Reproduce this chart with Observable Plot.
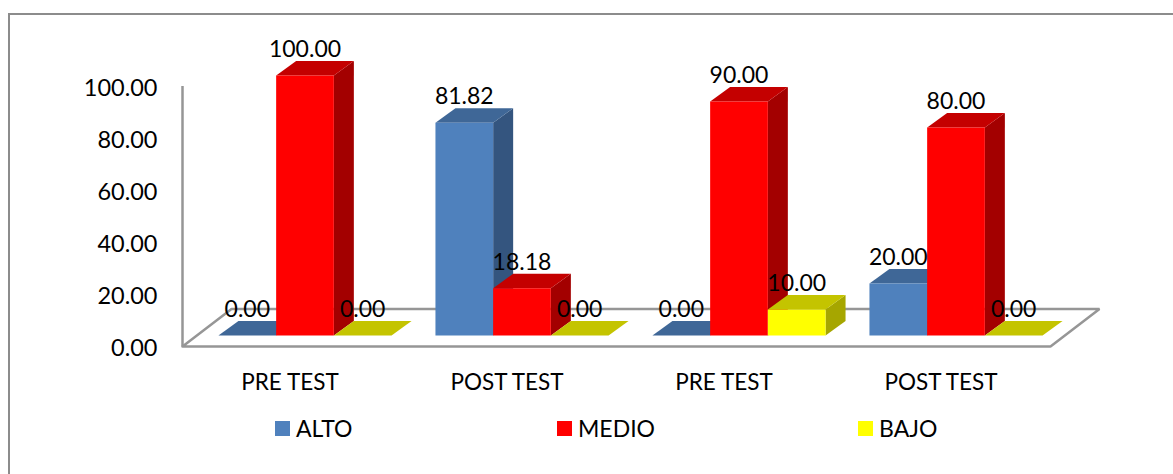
<!DOCTYPE html>
<html>
<head>
<meta charset="utf-8">
<script src="https://cdn.jsdelivr.net/npm/d3@7"></script>
<script src="https://cdn.jsdelivr.net/npm/@observablehq/plot@0.6"></script>
<style>
  html, body { margin: 0; padding: 0; background: #fff; }
  #chart { position: relative; width: 1173px; height: 474px; overflow: hidden; font-family: Lato, sans-serif; color: #000; }
  #frame { position: absolute; left: 8px; top: 13px; width: 1180px; height: 480px; border: 2px solid #8c8c8c; box-sizing: border-box; pointer-events: none; }
  #legend { position: relative; height: 64px; font-size: 23px; }
  #legend .item { position: absolute; top: 6px; display: flex; align-items: center; gap: 6px; line-height: 24px; }
  #legend .sw { width: 15px; height: 15px; display: inline-block; }
  svg { display: block; overflow: visible; }
</style>
</head>
<body>
<div id="chart"><div id="frame"></div></div>
<script>
const groups = ["PRE TEST", "POST TEST", "PRE TEST", "POST TEST"];
const seriesNames = ["ALTO", "MEDIO", "BAJO"];
const alto = [0, 81.82, 0, 20];
const medio = [100, 18.18, 90, 80];
const bajo = [0, 0, 10, 0];
const yTicks = [0, 20, 40, 60, 80, 100];
const frontColors = ["#4F81BD", "#FF0000", "#FFFF00"];
const topColors = ["#3F6797", "#C40000", "#C4C400"];
const sideColors = ["#34557F", "#A30000", "#A6A600"];
const legendLeft = [275, 557, 858];

const values = [alto, medio, bajo];
const W = 1173, H = 410;
const mL = 182, mR = 123, mT = 86, mB = H - 346;
const ux = 217;                   // px per group on x
const uy = 2.6;                   // px per y-unit
const barW = 57.7 / ux;           // bar width in x units
const barStart = 0.5 - 1.5 * barW; // first bar offset within a group
const floorDX = 49 / ux, floorDY = 37.5 / uy;
const frontDX = 14 / ux, frontDY = 11 / uy;
const barDX = 20 / ux, barDY = 14.5 / uy;

// polygons, painted left to right so nearer bars cover farther ones
const polys = [];
groups.forEach((g, gi) => {
  seriesNames.forEach((s, si) => {
    const v = values[si][gi];
    const x0 = gi + barStart + si * barW + frontDX;
    const x1 = x0 + barW;
    const y0 = frontDY, y1 = frontDY + v;
    const add = (face, fill, pts) => pts.forEach(([x, y]) => polys.push({id: `${gi}-${si}-${face}`, fill, x, y}));
    if (v > 0) add("side", sideColors[si], [[x1, y0], [x1 + barDX, y0 + barDY], [x1 + barDX, y1 + barDY], [x1, y1]]);
    add("top", topColors[si], [[x0, y1], [x1, y1], [x1 + barDX, y1 + barDY], [x0 + barDX, y1 + barDY]]);
    if (v > 0) add("front", frontColors[si], [[x0, y0], [x1, y0], [x1, y1], [x0, y1]]);
  });
});

const labels = [];
groups.forEach((g, gi) => seriesNames.forEach((s, si) => {
  const v = values[si][gi];
  labels.push({x: gi + barStart + (si + 0.5) * barW + frontDX, y: v + frontDY, t: v.toFixed(2)});
}));

const floor = [[0, 0], [0 + floorDX, floorDY], [4 + floorDX, floorDY], [4, 0], [0, 0]];

const plot = Plot.plot({
  width: W, height: H,
  marginLeft: mL, marginRight: mR, marginTop: mT, marginBottom: mB,
  style: {fontFamily: "Lato, sans-serif", background: "transparent", overflow: "visible"},
  x: {domain: [0, 4]},
  y: {domain: [0, 100]},
  marks: [
    Plot.line(floor, {x: d => d[0], y: d => d[1], stroke: "#969696", strokeWidth: 2.5, strokeLinejoin: "miter"}),
    Plot.ruleX([0], {y1: 0, y2: 100, stroke: "#969696", strokeWidth: 2.5}),
    Plot.line(polys, {x: "x", y: "y", z: "id", fill: "fill", stroke: null, curve: "linear-closed"}),
    Plot.text(labels, {x: "x", y: "y", text: "t", dy: -26, fontSize: 23, fill: "#000"}),
    Plot.axisY({ticks: yTicks, tickSize: 0, tickPadding: 25, tickFormat: d => d.toFixed(2), fontSize: 23.5, label: null, fill: "#000", dy: 2}),
    Plot.axisX({ticks: groups.map((g, i) => i + 0.5), tickSize: 0, tickPadding: 28, dx: -1, tickFormat: d => groups[Math.floor(d)], fontSize: 22.5, label: null, fill: "#000"})
  ]
});
const chart = document.getElementById("chart");
chart.appendChild(plot);
const legend = document.createElement("div");
legend.id = "legend";
seriesNames.forEach((s, i) => {
  const it = document.createElement("div");
  it.className = "item";
  it.style.left = legendLeft[i] + "px";
  it.innerHTML = `<span class="sw" style="background:${frontColors[i]}"></span><span>${s}</span>`;
  legend.appendChild(it);
});
chart.appendChild(legend);
</script>
</body>
</html>
